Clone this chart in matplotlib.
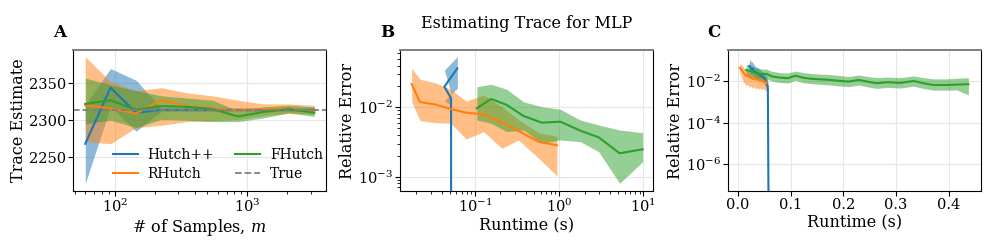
import numpy as np
import matplotlib
matplotlib.use("Agg")
import matplotlib.pyplot as plt

plt.rcParams["font.family"] = ["DejaVu Serif"]
plt.rcParams["mathtext.fontset"] = "dejavuserif"
plt.rcParams["font.size"] = 11.5
plt.rcParams["xtick.labelsize"] = 10.5
plt.rcParams["ytick.labelsize"] = 10.5
plt.rcParams["xtick.major.pad"] = 1.5
plt.rcParams["ytick.major.pad"] = 1.5
plt.rcParams["axes.labelpad"] = 1.5

BLUE, ORANGE, GREEN = "#1f77b4", "#ff7f0e", "#2ca02c"

# ── Panel A: trace estimate vs number of samples ────────────────────────────
m_samples = [60, 93, 145, 225, 350, 545, 850, 1320, 2050, 3200]
true_trace = 2314

hpp_est = [2268, 2344, 2310, 2314, 2314, 2314, 2314, 2314, 2314, 2314]
hpp_hi = [2321, 2370, 2354, 2316, 2316, 2316, 2316, 2316, 2316, 2316]
hpp_lo = [2214, 2318, 2285, 2312, 2312, 2312, 2312, 2312, 2312, 2312]

rh_est = [2320, 2316, 2309, 2327, 2319, 2316, 2313, 2315, 2316, 2312]
rh_hi = [2386, 2352, 2340, 2344, 2337, 2333, 2327, 2322, 2322, 2320]
rh_lo = [2271, 2268, 2290, 2293, 2298, 2299, 2301, 2306, 2309, 2308]

fh_est = [2322, 2327, 2314, 2319, 2318, 2315, 2305, 2311, 2315, 2310]
fh_hi = [2357, 2348, 2340, 2333, 2330, 2327, 2313, 2318, 2320, 2318]
fh_lo = [2295, 2300, 2290, 2301, 2300, 2298, 2298, 2303, 2310, 2305]

# ── Panel B: relative error vs runtime (log-log) ────────────────────────────
hpp_t = [0.0615, 0.0431, 0.0518, 0.0520, 0.0522, 0.0524, 0.0526, 0.0528, 0.0530, 0.0532]
hpp_err = [0.0366, 0.0198, 0.0135, 1e-12, 1e-12, 1e-12, 1e-12, 1e-12, 1e-12, 1e-12]
hpp_err_hi = [0.054, 0.0345, 0.016]
hpp_err_lo = [0.0188, 0.0125, 0.0105]

rh_t = [0.0176, 0.0221, 0.0334, 0.0514, 0.0781, 0.126, 0.208, 0.328, 0.568, 0.94]
rh_err = [0.0217, 0.0119, 0.0110, 0.00945, 0.00836, 0.00792, 0.00607, 0.00455, 0.00319, 0.00283]
rh_err_hi = [0.0366, 0.0254, 0.0226, 0.0182, 0.0123, 0.0150, 0.0102, 0.0066, 0.0043, 0.0038]
rh_err_lo = [0.01205, 0.00641, 0.0060, 0.00588, 0.00349, 0.00445, 0.00256, 0.00338, 0.00184, 0.00102]

fh_t = [0.105, 0.155, 0.238, 0.376, 0.622, 1.03, 1.78, 2.94, 5.22, 9.8]
fh_err = [0.00968, 0.0132, 0.0108, 0.00749, 0.0060, 0.0062, 0.0046, 0.00369, 0.00217, 0.00248]
fh_err_hi = [0.0198, 0.0215, 0.0182, 0.0120, 0.0102, 0.00936, 0.00656, 0.00556, 0.0047, 0.0043]
fh_err_lo = [0.00656, 0.00588, 0.00445, 0.0047, 0.00303, 0.00338, 0.00319, 0.00229, 0.0008, 0.00164]

# ── Panel C: relative error vs runtime (linear time) ────────────────────────
c_hpp_t = [0.022, 0.025, 0.028, 0.031, 0.034, 0.037, 0.040, 0.043, 0.046, 0.049,
           0.052, 0.055, 0.057, 0.058, 0.059]
c_hpp_err = [0.055, 0.040, 0.042, 0.030, 0.027, 0.024, 0.022, 0.019, 0.017, 0.015,
             0.012, 0.009, 0.005, 1e-7, 1e-9]
c_hpp_hi = [0.12, 0.09, 0.085, 0.06, 0.05, 0.045, 0.04, 0.035, 0.03, 0.026,
            0.021, 0.016, 0.010, 1e-6, 1e-8]
c_hpp_lo = [0.028, 0.022, 0.022, 0.016, 0.015, 0.013, 0.012, 0.011, 0.0095, 0.008,
            0.006, 0.004, 0.0015, 1e-8, 1e-10]

c_rh_t = [0.004, 0.007, 0.010, 0.013, 0.016, 0.019, 0.022, 0.025, 0.028, 0.031,
          0.034, 0.037, 0.040, 0.043, 0.046, 0.049, 0.052, 0.055]
c_rh_err = [0.045, 0.035, 0.028, 0.022, 0.018, 0.020, 0.015, 0.016, 0.013, 0.014,
            0.012, 0.013, 0.011, 0.0115, 0.010, 0.0105, 0.009, 0.0085]
c_rh_hi = [0.075, 0.060, 0.050, 0.040, 0.034, 0.036, 0.028, 0.030, 0.024, 0.026,
           0.022, 0.024, 0.020, 0.021, 0.018, 0.019, 0.016, 0.015]
c_rh_lo = [0.022, 0.016, 0.010, 0.008, 0.006, 0.007, 0.005, 0.006, 0.0045, 0.0055,
           0.004, 0.005, 0.0042, 0.0048, 0.004, 0.0045, 0.0035, 0.0035]

c_fh_t = [0.016, 0.03, 0.042, 0.055, 0.065, 0.080, 0.095, 0.109, 0.125, 0.143,
          0.160, 0.175, 0.192, 0.210, 0.229, 0.246, 0.264, 0.283, 0.308, 0.333,
          0.352, 0.371, 0.395, 0.415, 0.437]
c_fh_err = [0.035, 0.028, 0.0225, 0.0225, 0.017, 0.0149, 0.0140, 0.0186, 0.0145, 0.0129,
            0.0122, 0.0116, 0.0105, 0.0096, 0.0116, 0.0095, 0.0080, 0.0090, 0.0083, 0.0103,
            0.0080, 0.0066, 0.0066, 0.0069, 0.0072]
c_fh_hi = [0.065, 0.05, 0.040, 0.038, 0.030, 0.026, 0.025, 0.031, 0.026, 0.023,
           0.022, 0.021, 0.019, 0.017, 0.020, 0.017, 0.015, 0.016, 0.015, 0.018,
           0.015, 0.013, 0.013, 0.014, 0.015]
c_fh_lo = [0.020, 0.016, 0.013, 0.013, 0.010, 0.0087, 0.0082, 0.011, 0.0085, 0.0075,
           0.0070, 0.0066, 0.0060, 0.0055, 0.0066, 0.0054, 0.0045, 0.0051, 0.0047, 0.0058,
           0.0045, 0.0037, 0.0037, 0.0038, 0.0022]


def style_axes(ax):
    ax.grid(color="#e6e6e6", linewidth=0.8)
    ax.set_axisbelow(True)
    for side in ("left", "right", "bottom"):
        ax.spines[side].set_color("black")
        ax.spines[side].set_linewidth(0.8)
    ax.spines["top"].set_color("#7f7f7f")
    ax.spines["top"].set_linewidth(1.4)


fig = plt.figure(figsize=(9.96, 2.49), dpi=100)
ax_a = fig.add_axes([0.0733, 0.233, 0.254, 0.566])
ax_b = fig.add_axes([0.4016, 0.233, 0.254, 0.566])
ax_c = fig.add_axes([0.731, 0.233, 0.254, 0.566])

# A
ax_a.fill_between(m_samples, hpp_lo, hpp_hi, color=BLUE, alpha=0.5, linewidth=0)
ax_a.fill_between(m_samples, rh_lo, rh_hi, color=ORANGE, alpha=0.5, linewidth=0)
ax_a.fill_between(m_samples, fh_lo, fh_hi, color=GREEN, alpha=0.5, linewidth=0)
ax_a.plot(m_samples, hpp_est, color=BLUE, lw=1.5, label="Hutch++")
ax_a.plot(m_samples, rh_est, color=ORANGE, lw=1.5, label="RHutch")
ax_a.plot(m_samples, fh_est, color=GREEN, lw=1.5, label="FHutch")
ax_a.axhline(true_trace, color="gray", lw=1.3, ls="--", label="True")
ax_a.set_xscale("log")
ax_a.set_xlim(48.5, 3917)
ax_a.set_ylim(2204, 2395)
ax_a.set_yticks([2250, 2300, 2350])
ax_a.set_xlabel("# of Samples, $m$")
ax_a.set_ylabel("Trace Estimate")
ax_a.legend(ncol=2, frameon=False, loc="lower left", bbox_to_anchor=(0.158, 0.07),
            borderpad=0, borderaxespad=0, fontsize=10, handlelength=1.8,
            columnspacing=1.5, handletextpad=0.7, labelspacing=0.4)
style_axes(ax_a)

# B
ax_b.fill_between(hpp_t[:3], hpp_err_lo, hpp_err_hi, color=BLUE, alpha=0.5, linewidth=0)
ax_b.fill_between(rh_t, rh_err_lo, rh_err_hi, color=ORANGE, alpha=0.5, linewidth=0)
ax_b.fill_between(fh_t, fh_err_lo, fh_err_hi, color=GREEN, alpha=0.5, linewidth=0)
ax_b.plot(hpp_t, hpp_err, color=BLUE, lw=1.5)
ax_b.plot(rh_t, rh_err, color=ORANGE, lw=1.5)
ax_b.plot(fh_t, fh_err, color=GREEN, lw=1.5)
ax_b.set_xscale("log")
ax_b.set_yscale("log")
ax_b.set_xlim(0.0128, 13.0)
ax_b.set_ylim(6.2e-4, 0.067)
ax_b.set_xlabel("Runtime (s)")
ax_b.set_ylabel("Relative Error")
style_axes(ax_b)

# C
ax_c.fill_between(c_hpp_t, c_hpp_lo, c_hpp_hi, color=BLUE, alpha=0.5, linewidth=0)
ax_c.fill_between(c_rh_t, c_rh_lo, c_rh_hi, color=ORANGE, alpha=0.5, linewidth=0)
ax_c.fill_between(c_fh_t, c_fh_lo, c_fh_hi, color=GREEN, alpha=0.5, linewidth=0)
ax_c.plot(c_hpp_t, c_hpp_err, color=BLUE, lw=1.5)
ax_c.plot(c_rh_t, c_rh_err, color=ORANGE, lw=1.5)
ax_c.plot(c_fh_t, c_fh_err, color=GREEN, lw=1.5)
ax_c.set_yscale("log")
ax_c.set_xlim(-0.0184, 0.461)
ax_c.set_ylim(5.1e-8, 0.32)
ax_c.set_yticks([1e-6, 1e-4, 1e-2])
ax_c.yaxis.set_minor_locator(matplotlib.ticker.NullLocator())
ax_c.set_xticks([0.0, 0.1, 0.2, 0.3, 0.4])
ax_c.set_xlabel("Runtime (s)")
ax_c.set_ylabel("Relative Error")
style_axes(ax_c)

# panel letters and title
for x, letter in [(0.053, "A"), (0.3815, "B"), (0.710, "C")]:
    fig.text(x, 1 - 37 / 249, letter, fontweight="bold", fontsize=12, va="baseline")
fig.text(0.5287, 1 - 28 / 249, "Estimating Trace for MLP", ha="center", va="baseline",
         fontsize=11.5)

fig.savefig("out.png", dpi=100)
